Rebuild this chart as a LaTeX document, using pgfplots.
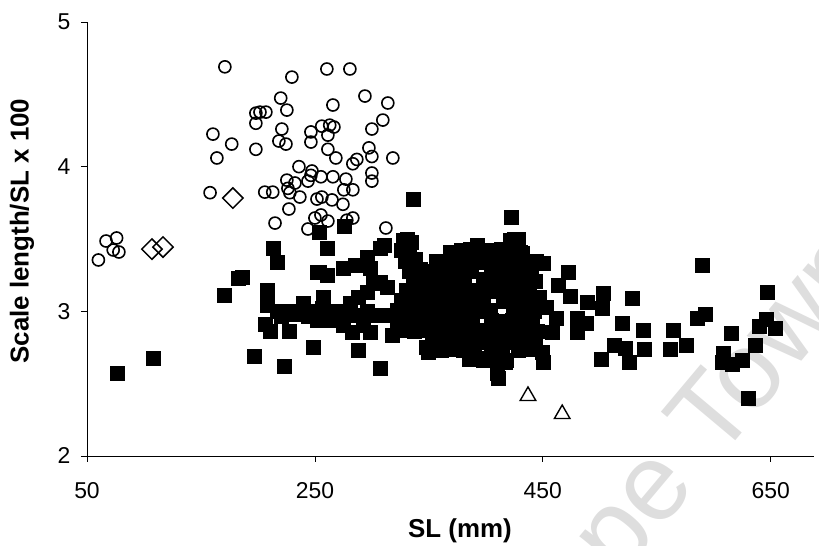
\documentclass[border=0pt]{standalone}
\usepackage{fontspec}
\setmainfont{Liberation Sans}
\usepackage{pgfplots}
\usepackage{pgfplotstable}
\pgfplotsset{compat=1.18}

\pgfplotstableread{
x y
76 2.57
108 2.68
170 3.11
182.5 3.23
186 3.24
213 3.44
217 3.34
208 3.15
208 3.04
206 2.91
210.5 2.86
227 2.86
197 2.69
223 2.62
248 2.75
240 3.04
252 3.27
216.6 3.0
220 2.97
228 3.0
232 2.98
239.4 3.0
244 2.97
251.7 3.0
256 3.02
263 3.0
268 2.98
274.5 3.0
239.4 3.06
257 3.10
254 3.27
261 3.25
274.5 3.30
285 3.32
295.6 3.375
307 3.44
311 3.46
298 3.30
307 3.20
313 3.17
280.7 3.06
287.7 3.10
295.6 3.13
301 3.195
278 2.975
286.8 2.975
295.6 3.0
304 2.975
313 2.975
322 3.01
274.5 2.905
283 2.857
292 2.905
298 2.857
263 2.94
251.7 2.94
322 2.905
318 2.836
288 2.73
307 2.61
261 3.44
254 3.55
276 3.59
336 3.776
331 3.5
349 2.72
390 2.70
422 3.65
392 3.46
371 3.40
425 3.50
431.5 3.40
450 3.33
472 3.27
327 3.49
334 3.48
421 3.49
428 3.50
326 3.42
333 3.43
369 3.41
378 3.42
386 3.43
395 3.41
404 3.42
413 3.43
421 3.42
430 3.41
329 3.35
338 3.36
356 3.35
364 3.34
373 3.35
382 3.36
391 3.35
400 3.34
408 3.35
417 3.36
426 3.35
435 3.34
444 3.35
333 3.28
342 3.29
351 3.28
360 3.29
369 3.28
378 3.29
387 3.28
405 3.29
414 3.28
422 3.29
431 3.28
440 3.29
336 3.22
345 3.21
354 3.22
363 3.21
372 3.22
381 3.21
398 3.22
407 3.21
416 3.22
425 3.21
434 3.22
443 3.21
330 3.15
339 3.14
348 3.15
357 3.14
366 3.15
375 3.14
384 3.15
393 3.14
402 3.15
411 3.14
420 3.15
429 3.14
438 3.15
326 3.08
335 3.07
344 3.08
353 3.07
362 3.08
371 3.07
380 3.08
389 3.07
398 3.08
415 3.07
424 3.08
433 3.07
442 3.08
332 3.01
341 3.00
350 3.01
359 3.00
368 3.01
377 3.00
386 3.01
395 3.00
404 3.01
424 3.00
433 3.01
442 3.00
325 2.94
334 2.93
343 2.94
352 2.93
361 2.94
370 2.93
379 2.94
388 2.93
405 2.94
414 2.93
423 2.94
432 2.93
441 2.94
328 2.87
337 2.86
346 2.87
355 2.86
364 2.87
373 2.86
382 2.87
391 2.86
400 2.87
409 2.86
418 2.87
427 2.86
436 2.87
445 2.86
353 2.80
362 2.79
371 2.80
380 2.79
389 2.80
398 2.79
407 2.80
416 2.79
425 2.80
434 2.79
443 2.80
361 2.73
370 2.74
380 2.73
405 2.73
414 2.74
428 2.73
438 2.74
385 2.67
398 2.66
406 2.67
418 2.66
348 2.75
374.5 2.75
388.5 2.68
403 2.68
416.6 2.65
409.6 2.57
410.5 2.54
463 3.18
473.7 3.106
488.6 3.064
502.6 3.126
501.8 3.02
528 3.09
520 2.92
480 2.95
487.7 2.92
480 2.857
513 2.767
522 2.746
500.9 2.67
525.4 2.65
458 2.857
449 2.72
450 2.65
415 2.66
432 2.815
462 2.95
447 3.10
453 3.03
590 3.32
646.5 3.133
585 2.954
592 2.98
645.6 2.947
640 2.90
653.5 2.885
615 2.85
636 2.767
608 2.71
607 2.65
616 2.636
624.6 2.66
630 2.40
564 2.87
562 2.74
576 2.767
537.7 2.87
538.6 2.74
}\squares

\pgfplotstableread{
x y
60 3.355
66.7 3.486
76 3.507
73 3.424
78 3.41
171 4.69
160.5 4.225
177 4.156
164 4.06
158 3.82
198.2 4.12
260.5 4.675
280.7 4.675
229.8 4.619
220 4.474
225.4 4.391
265.8 4.426
293.9 4.488
314 4.44
309.6 4.322
300 4.26
198.2 4.37
201.8 4.377
207 4.377
198.2 4.30
221 4.26
246.5 4.24
256 4.28
263 4.287
266.7 4.274
261.4 4.218
218.4 4.177
224.6 4.156
246.5 4.17
261.4 4.12
268.4 4.06
286.8 4.05
283.3 4.02
297.4 4.13
300 4.07
318.4 4.06
236 4.0
247.4 3.97
246.5 3.94
243.9 3.90
255.3 3.93
265.8 3.93
277.2 3.914
300 3.956
300 3.90
225.4 3.907
232.5 3.887
226.3 3.85
228 3.82
236.8 3.79
251.8 3.776
256.1 3.79
265 3.77
275.4 3.84
283.3 3.84
274.6 3.74
206 3.824
213 3.824
227.2 3.707
215 3.61
250 3.645
255.3 3.666
261.4 3.624
243.9 3.569
278 3.63
283.3 3.645
312.3 3.576
}\circles

\pgfplotstableread{
x y
178 3.783
107 3.43
116.7 3.444
}\diamonds

\pgfplotstableread{
x y
437 2.415
467 2.29
}\triangles

\begin{document}
\begin{tikzpicture}[x=1bp,y=1bp]
\node[rotate=50, text=black!13, font=\fontsize{110}{110}\selectfont, anchor=base west] at (530,-126) {pe Town};
\begin{axis}[
  scale only axis, width=727bp, height=434bp,
  xmin=50, xmax=688, ymin=2, ymax=5,
  axis x line*=bottom, axis y line*=left,
  axis line style={line width=0.8bp, -},
  xtick={50,250,450,650}, ytick={2,3,4,5},
  tick align=outside, major tick length=6bp, tick style={line width=0.8bp, black},
  /pgf/number format/assume math mode=true,
  /pgf/number format/1000 sep={},
  ticklabel style={font=\fontsize{23}{23}\selectfont},
  xticklabel style={yshift=-17bp},
  yticklabel style={xshift=-7bp},
  xlabel={SL (mm)}, ylabel={Scale length/SL x 100},
  every axis x label/.style={at={(axis description cs:0.513,0)}, yshift=-75bp, anchor=center, font=\bfseries\fontsize{26}{26}\selectfont},
  every axis y label/.style={at={(axis description cs:0,0.518)}, xshift=-65bp, anchor=center, rotate=90, font=\bfseries\fontsize{26}{26}\selectfont},
  clip=false,
]
\addplot[only marks, mark=square*, mark size=7bp, mark options={draw=black, fill=black, line width=0.2bp}] table[x=x,y=y] {\squares};
\addplot[only marks, mark=o, mark size=6bp, mark options={draw=black, line width=1.6bp}] table[x=x,y=y] {\circles};
\addplot[only marks, mark=square, mark size=7.2bp, mark options={draw=black, line width=1.5bp, rotate=45}] table[x=x,y=y] {\diamonds};
\addplot[only marks, mark=triangle, mark size=9bp, mark options={draw=black, line width=1.4bp}] table[x=x,y=y] {\triangles};
\end{axis}
\pgfresetboundingbox
\path[use as bounding box] (-87,-90) rectangle (732,456);
\end{tikzpicture}
\end{document}
